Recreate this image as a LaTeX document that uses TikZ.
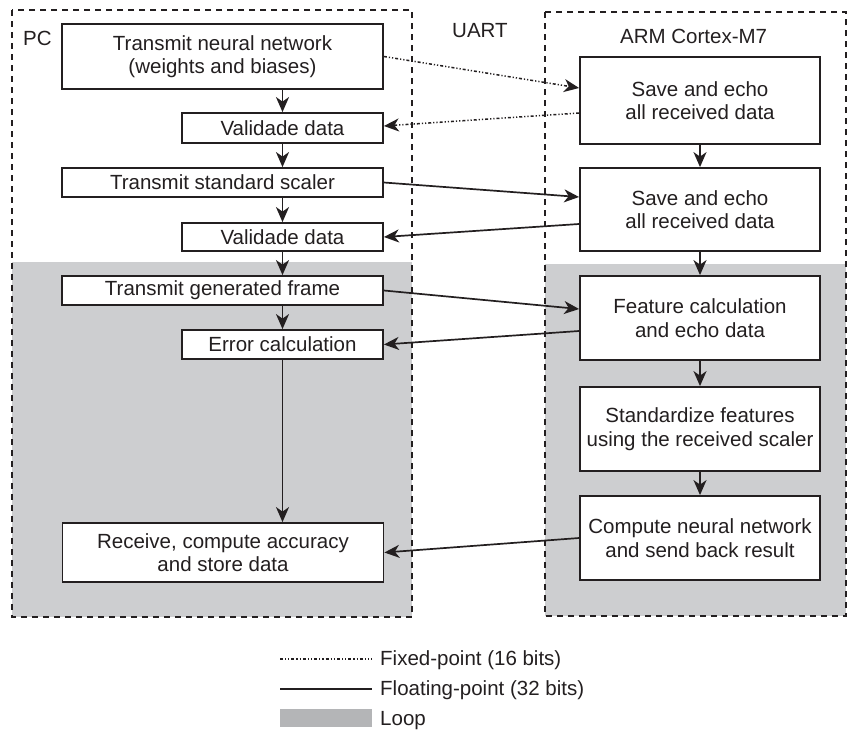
\documentclass[tikz,border=0pt]{standalone}
\usepackage{fontspec}
\setmainfont{Liberation Sans}
\usetikzlibrary{arrows.meta,calc}
\definecolor{ink}{RGB}{35,31,32}
\definecolor{loopgray}{RGB}{205,206,208}
\definecolor{leggray}{RGB}{180,181,183}
\tikzset{
  box/.style={draw=ink, line width=1.8pt, fill=white, align=center, inner sep=0pt,
    font=\fontsize{20.5}{23.5}\selectfont, text=ink},
  lbl/.style={inner sep=0pt, font=\fontsize{20.5}{23.5}\selectfont, text=ink},
  frame/.style={draw=ink, line width=1.4pt, dash pattern=on 6pt off 5pt},
  arr/.style={draw=ink, line width=1.7pt, -{Stealth[length=15pt,width=13pt,inset=4.5pt]}},
  fixp/.style={arr, line width=1.5pt, dash pattern=on 3pt off 2pt on 1.2pt off 2pt on 1.2pt off 2pt},
}
\begin{document}
\begin{tikzpicture}[x=1pt,y=-1pt]
\useasboundingbox (0,0) rectangle (848,731);
% loop regions
\fill[loopgray] (12,262) rectangle (412,617);
\fill[loopgray] (545,264) rectangle (846,616);
% frames
\draw[frame] (12,10) rectangle (412,617);
\draw[frame] (545,12) rectangle (846,616);
% labels
\node[lbl, anchor=base west] (pc) at (23,45) {PC};
\node[lbl, anchor=base west] (uart) at (452,37) {UART};
\node[lbl, anchor=base west] (arm) at (620,43) {ARM Cortex-M7};
% PC side
\node[box, minimum width=321pt, minimum height=65pt] (B1) at (222.5,56.5) {Transmit neural network\\(weights and biases)};
\node[box, minimum width=201pt, minimum height=30pt] (B2) at (282.5,128) {Validade data};
\node[box, minimum width=321pt, minimum height=29pt] (B3) at (222.5,182.5) {Transmit standard scaler};
\node[box, minimum width=201pt, minimum height=28pt] (B4) at (282.5,237) {Validade data};
\node[box, minimum width=321pt, minimum height=29pt] (B5) at (222.5,290.5) {Transmit generated frame};
\node[box, minimum width=201pt, minimum height=29pt] (B6) at (282.5,344.5) {Error calculation};
\node[box, minimum width=321pt, minimum height=59pt] (B7) at (223,552.5) {Receive, compute accuracy\\and store data};
% ARM side
\node[box, minimum width=240pt, minimum height=87pt] (R1) at (700,100.5) {Save and echo\\all received data};
\node[box, minimum width=240pt, minimum height=83pt] (R2) at (700,209.5) {Save and echo\\all received data};
\node[box, minimum width=240pt, minimum height=84pt] (R3) at (700,318) {Feature calculation\\and echo data};
\node[box, minimum width=240pt, minimum height=84pt] (R4) at (700,429) {Standardize features\\using the received scaler};
\node[box, minimum width=240pt, minimum height=84pt] (R5) at (700,538) {Compute neural network\\and send back result};
% vertical flow PC
\draw[arr] (B1.south -| B2) -- (B2.north);
\draw[arr] (B2.south) -- (B3.north -| B2);
\draw[arr] (B3.south -| B2) -- (B4.north);
\draw[arr] (B4.south) -- (B5.north -| B2);
\draw[arr] (B5.south -| B2) -- (B6.north);
\draw[arr] (B6.south) -- (B7.north -| B6);
% vertical flow ARM
\draw[arr] (R1.south) -- (R2.north);
\draw[arr] (R2.south) -- (R3.north);
\draw[arr] (R3.south) -- (R4.north);
\draw[arr] (R4.south) -- (R5.north);
% UART links
\draw[fixp] (B1.east) -- ([yshift=12.5pt]R1.west);
\draw[fixp] ([yshift=-12.5pt]R1.west) -- ([yshift=2pt]B2.east);
\draw[arr] (B3.east) -- ([yshift=12.5pt]R2.west);
\draw[arr] ([yshift=-14.5pt]R2.west) -- (B4.east);
\draw[arr] (B5.east) -- ([yshift=9pt]R3.west);
\draw[arr] ([yshift=-13pt]R3.west) -- (B6.east);
\draw[arr] (R5.west) -- (B7.east);
% legend
\coordinate (l1a) at (280,659); \coordinate (l1b) at (372,659);
\coordinate (l2a) at (280,689); \coordinate (l2b) at (372,689);
\draw[draw=ink, line width=1.3pt, dash pattern=on 3pt off 2pt on 1.2pt off 2pt on 1.2pt off 2pt] (l1a) -- (l1b);
\draw[draw=ink, line width=1.6pt] (l2a) -- (l2b);
\fill[leggray] (280,709) rectangle (372,727);
\node[lbl, anchor=base west] (t1) at (380,665) {Fixed-point (16 bits)};
\node[lbl, anchor=base west] (t2) at (380,695) {Floating-point (32 bits)};
\node[lbl, anchor=base west] (t3) at (380,725) {Loop};
\end{tikzpicture}
\end{document}
